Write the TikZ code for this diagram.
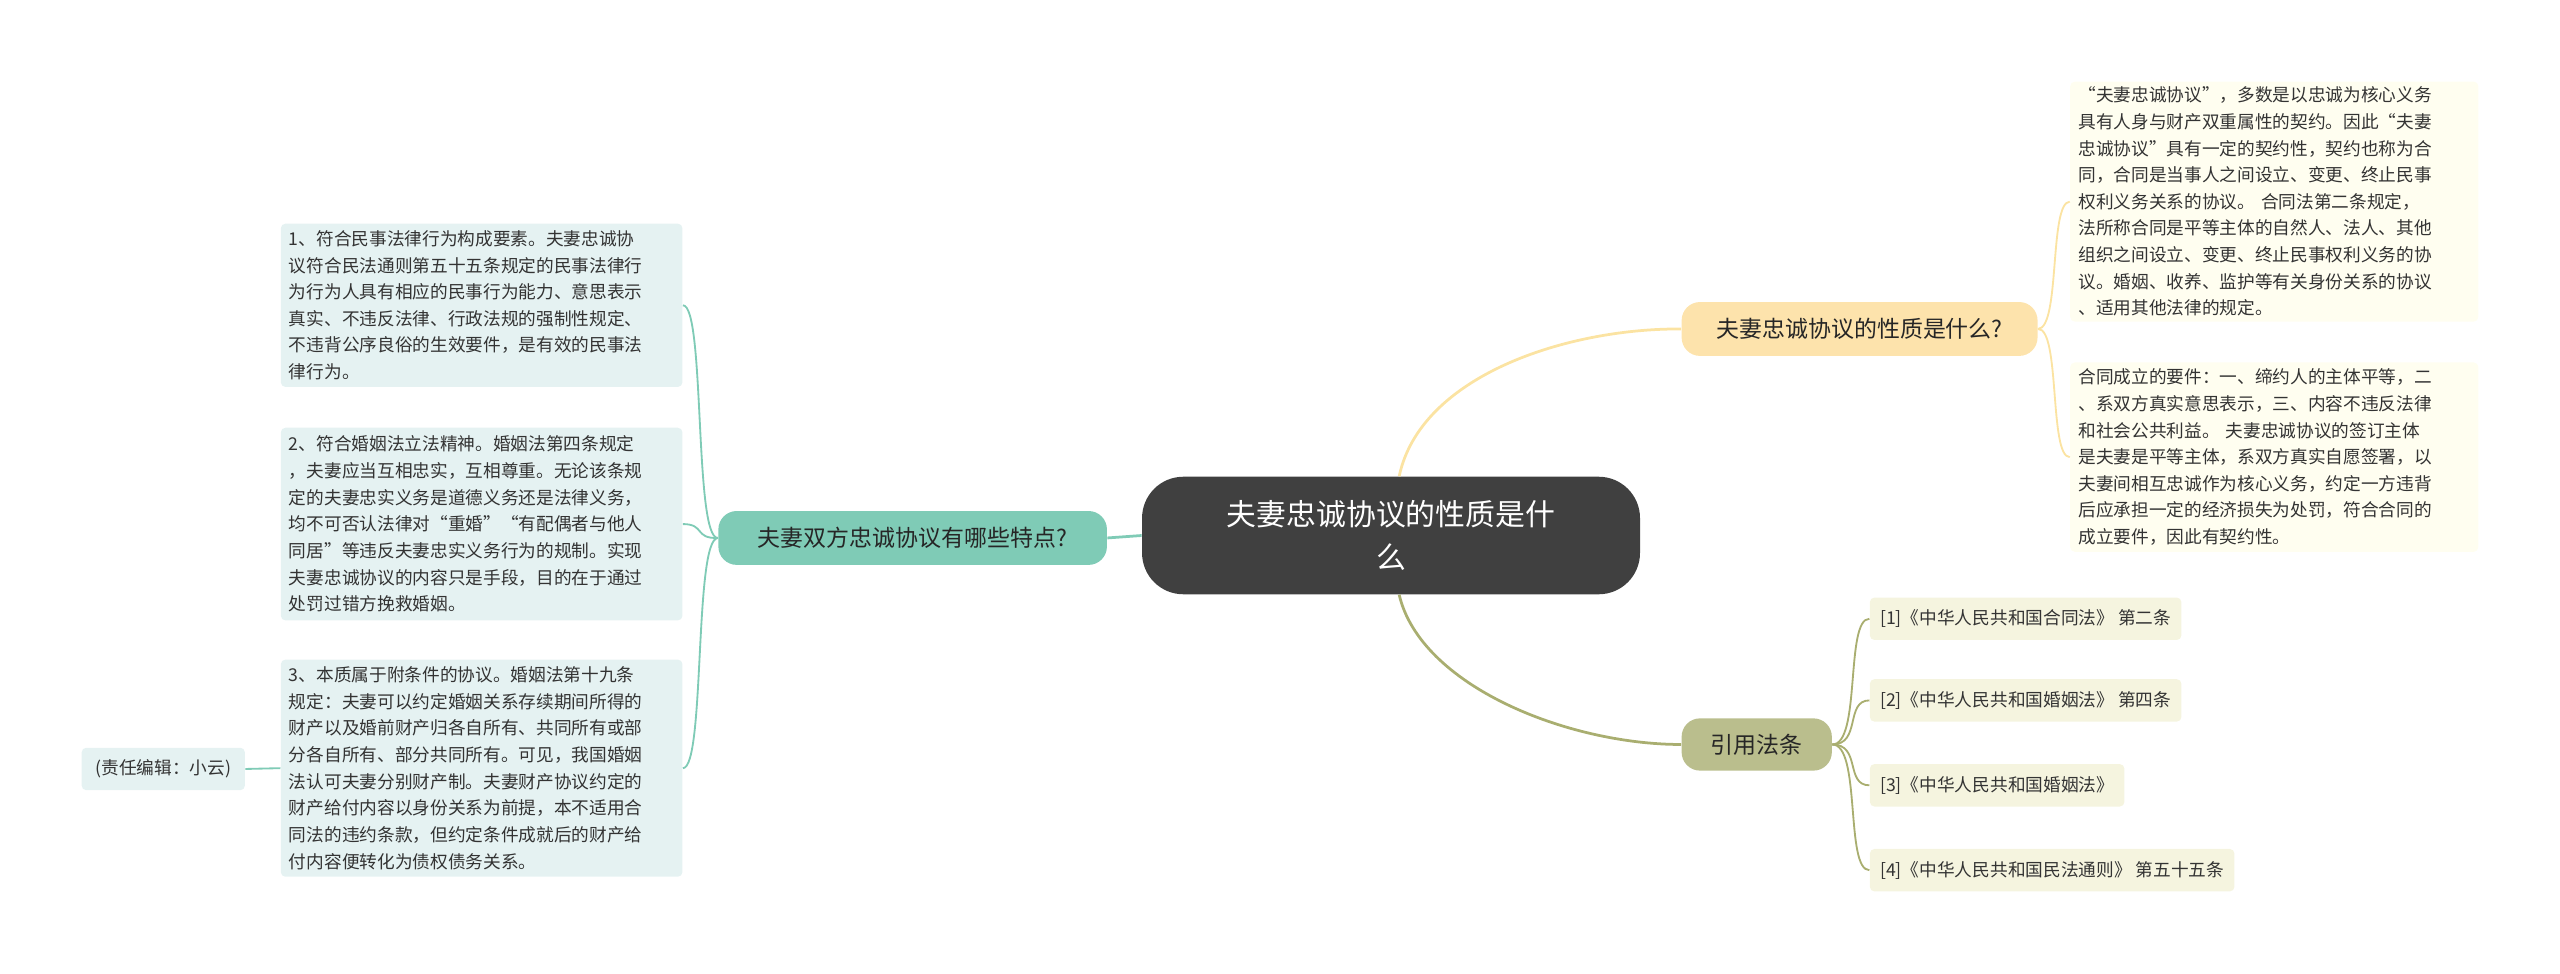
\documentclass[tikz,border=0pt]{standalone}
\usepackage{fontspec}
\setmainfont{Noto Sans CJK SC}
\begin{document}
\begin{tikzpicture}[x=0.025cm,y=-0.025cm,
 leaf/.style={rounded corners=2pt,align=left,inner sep=0pt,font=\fontsize{7.7}{11.6}\selectfont,text=black!80},
 yl/.style={leaf,fill=yellow!6!white},
 gl/.style={leaf,fill=teal!10!white},
 ol/.style={leaf,fill=olive!9!white},
 br/.style={rounded corners=8pt,inner sep=0pt,font=\fontsize{10}{12}\selectfont,text=black!85}]
\useasboundingbox (0,0) rectangle (1568,596);
\definecolor{yline}{HTML}{FBE3A2}
\definecolor{tline}{HTML}{7FCBB6}
\definecolor{oline}{HTML}{A9AE70}
% center
\node[fill=black!75,rounded corners=18pt,minimum width=305*0.025cm,minimum height=72*0.025cm,text=white,align=center,font=\fontsize{13}{18.5}\selectfont] (c) at (852,328) {夫妻忠诚协议的性质是什\\么};
% branches
\node[br,fill=yellow!35!orange!30!white,minimum width=218*0.025cm,minimum height=33*0.025cm] (b1) at (1139,201.5) {夫妻忠诚协议的性质是什么?};
\node[br,fill=oline!80,minimum width=92*0.025cm,minimum height=32*0.025cm] (b2) at (1076,456) {引用法条};
\node[br,fill=tline,minimum width=238*0.025cm,minimum height=33*0.025cm] (b3) at (559,329.5) {夫妻双方忠诚协议有哪些特点?};
% right leaves
\node[yl,minimum width=250*0.025cm,minimum height=147*0.025cm,text width=240*0.025cm] (r1) at (1393,123.5) {“夫妻忠诚协议”，多数是以忠诚为核心义务\\具有人身与财产双重属性的契约。因此“夫妻\\忠诚协议”具有一定的契约性，契约也称为合\\同，合同是当事人之间设立、变更、终止民事\\权利义务关系的协议。 合同法第二条规定，\\法所称合同是平等主体的自然人、法人、其他\\组织之间设立、变更、终止民事权利义务的协\\议。婚姻、收养、监护等有关身份关系的协议\\、适用其他法律的规定。};
\node[yl,minimum width=250*0.025cm,minimum height=116*0.025cm,text width=240*0.025cm] (r2) at (1393,280) {合同成立的要件：一、缔约人的主体平等，二\\、系双方真实意思表示，三、内容不违反法律\\和社会公共利益。 夫妻忠诚协议的签订主体\\是夫妻是平等主体，系双方真实自愿签署，以\\夫妻间相互忠诚作为核心义务，约定一方违背\\后应承担一定的经济损失为处罚，符合合同的\\成立要件，因此有契约性。};
\node[ol,minimum height=26*0.025cm,inner xsep=4.5pt,anchor=west] (f1) at (1145,379) {[1]《中华人民共和国合同法》 第二条};
\node[ol,minimum height=26*0.025cm,inner xsep=4.5pt,anchor=west] (f2) at (1145,429) {[2]《中华人民共和国婚姻法》 第四条};
\node[ol,minimum height=26*0.025cm,inner xsep=4.5pt,anchor=west] (f3) at (1145,481) {[3]《中华人民共和国婚姻法》};
\node[ol,minimum height=26*0.025cm,inner xsep=4.5pt,anchor=west] (f4) at (1145,533) {[4]《中华人民共和国民法通则》 第五十五条};
% left leaves
\node[gl,minimum width=246*0.025cm,minimum height=100*0.025cm,text width=236*0.025cm] (l1) at (295,187) {1、符合民事法律行为构成要素。夫妻忠诚协\\议符合民法通则第五十五条规定的民事法律行\\为行为人具有相应的民事行为能力、意思表示\\真实、不违反法律、行政法规的强制性规定、\\不违背公序良俗的生效要件，是有效的民事法\\律行为。};
\node[gl,minimum width=246*0.025cm,minimum height=118*0.025cm,text width=236*0.025cm] (l2) at (295,321) {2、符合婚姻法立法精神。婚姻法第四条规定\\，夫妻应当互相忠实，互相尊重。无论该条规\\定的夫妻忠实义务是道德义务还是法律义务，\\均不可否认法律对“重婚”“有配偶者与他人\\同居”等违反夫妻忠实义务行为的规制。实现\\夫妻忠诚协议的内容只是手段，目的在于通过\\处罚过错方挽救婚姻。};
\node[gl,minimum width=246*0.025cm,minimum height=133*0.025cm,text width=236*0.025cm] (l3) at (295,470.5) {3、本质属于附条件的协议。婚姻法第十九条\\规定：夫妻可以约定婚姻关系存续期间所得的\\财产以及婚前财产归各自所有、共同所有或部\\分各自所有、部分共同所有。可见，我国婚姻\\法认可夫妻分别财产制。夫妻财产协议约定的\\财产给付内容以身份关系为前提，本不适用合\\同法的违约条款，但约定条件成就后的财产给\\付内容便转化为债权债务关系。};
\node[gl,minimum width=100*0.025cm,minimum height=26*0.025cm] (ed) at (100,471) {(责任编辑：小云)};
% connectors
\draw[yline,line width=1.2pt] (c.north) ++(5,0) coordinate (cn) .. controls (870,230) and (960,201) .. (b1.west);
\draw[oline,line width=1.2pt] (c.south) ++(5,0) coordinate (cs) .. controls (870,420) and (960,456) .. (b2.west);
\draw[tline,line width=1.2pt] (c.west) -- (b3.east);
\begin{scope}[line width=0.8pt]
\draw[yline] (b1.east) .. controls (1262,201) and (1255,124) .. (r1.west);
\draw[yline] (b1.east) .. controls (1262,201) and (1255,280) .. (r2.west);
\foreach \f in {f1,f2,f3,f4}
  \draw[oline] (b2.east) .. controls (1140,456) and (1130,0|-\f.west) .. (\f.west);
\foreach \l in {l1,l2,l3}
  \draw[tline] (b3.west) .. controls (425,330) and (432,0|-\l.east) .. (\l.east);
\draw[tline] (ed.east) -- (l3.west);
\end{scope}
\end{tikzpicture}
\end{document}
